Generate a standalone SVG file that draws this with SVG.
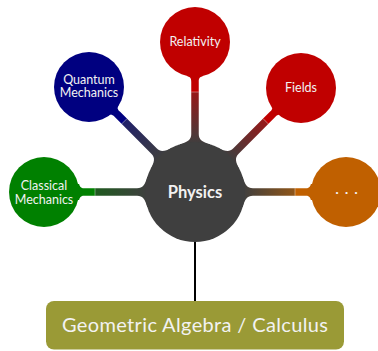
<svg xmlns="http://www.w3.org/2000/svg" width="378" height="351" viewBox="0 0 378 351">
<style>
.lbl{font-family:Lato,"Open Sans","DejaVu Sans",sans-serif;fill:#f2f2f2;text-anchor:middle}
.small{font-size:12.5px}
.tick{stroke:#ffffff;stroke-opacity:0.55;stroke-width:0.7}
</style>
<defs>
<path id="bar" d="M47.7,-15 C50.1,-7.4 52,-3.75 58,-3.75 L110,-3.75 C113,-3.75 115,-4.1 115.9,-8 L125,-8 L125,8 L115.9,8 C115,4.1 113,3.75 110,3.75 L58,3.75 C52,3.75 50.1,7.4 47.7,15 L40,15 L40,-15 Z"/>
<linearGradient id="gG" gradientUnits="userSpaceOnUse" x1="48" y1="0" x2="150" y2="0"><stop offset="0" stop-color="#3f3f3f"/><stop offset="0.51" stop-color="#1f5a1f"/><stop offset="0.51" stop-color="#008000"/><stop offset="1" stop-color="#008000"/></linearGradient>
<linearGradient id="gB" gradientUnits="userSpaceOnUse" x1="48" y1="0" x2="150" y2="0"><stop offset="0" stop-color="#3f3f3f"/><stop offset="0.51" stop-color="#20206a"/><stop offset="0.51" stop-color="#000080"/><stop offset="1" stop-color="#000080"/></linearGradient>
<linearGradient id="gR" gradientUnits="userSpaceOnUse" x1="48" y1="0" x2="150" y2="0"><stop offset="0" stop-color="#3f3f3f"/><stop offset="0.51" stop-color="#971818"/><stop offset="0.51" stop-color="#c00000"/><stop offset="1" stop-color="#c00000"/></linearGradient>
<linearGradient id="gO" gradientUnits="userSpaceOnUse" x1="48" y1="0" x2="150" y2="0"><stop offset="0" stop-color="#3f3f3f"/><stop offset="0.51" stop-color="#8f5518"/><stop offset="0.51" stop-color="#c06000"/><stop offset="1" stop-color="#c06000"/></linearGradient>
</defs>
<g id="connectors">
<g transform="translate(195,192) rotate(180)"><use href="#bar" fill="url(#gG)"/><line class="tick" x1="100" y1="-3.75" x2="100" y2="3.75"/></g>
<g transform="translate(195,192) rotate(-135)"><use href="#bar" fill="url(#gB)"/><line class="tick" x1="100" y1="-3.75" x2="100" y2="3.75"/></g>
<g transform="translate(195,192) rotate(-90)"><use href="#bar" fill="url(#gR)"/><line class="tick" x1="100" y1="-3.75" x2="100" y2="3.75"/></g>
<g transform="translate(195,192) rotate(-45)"><use href="#bar" fill="url(#gR)"/><line class="tick" x1="100" y1="-3.75" x2="100" y2="3.75"/></g>
<g transform="translate(195,192)"><use href="#bar" fill="url(#gO)"/><line class="tick" x1="100" y1="-3.75" x2="100" y2="3.75"/></g>
<line x1="195" y1="240" x2="195" y2="302" stroke="#000" stroke-width="2"/>
</g>
<g id="physics"><circle cx="195" cy="192" r="50" fill="#3f3f3f"/><text class="lbl" x="195" y="197.5" font-size="16.5" font-weight="bold">Physics</text></g>
<g id="classical"><circle cx="44" cy="192" r="35" fill="#008000"/><text class="lbl small" x="44" y="190">Classical</text><text class="lbl small" x="44" y="203.5">Mechanics</text></g>
<g id="quantum"><circle cx="89" cy="87" r="35" fill="#000080"/><text class="lbl small" x="89" y="83.5">Quantum</text><text class="lbl small" x="89" y="97">Mechanics</text></g>
<g id="relativity"><circle cx="195" cy="42" r="35" fill="#c00000"/><text class="lbl small" x="195" y="46">Relativity</text></g>
<g id="fields"><circle cx="301" cy="88" r="35" fill="#c00000"/><text class="lbl small" x="301" y="92">Fields</text></g>
<g id="more"><circle cx="346" cy="192" r="35" fill="#c06000"/><text class="lbl" x="337 346.5 356" y="196.5" font-size="14">···</text></g>
<g id="geometric"><rect x="46" y="301" width="298" height="48.5" rx="8" fill="#9a9a36"/><text class="lbl" x="195" y="332" font-size="20" textLength="266" lengthAdjust="spacing">Geometric Algebra / Calculus</text></g>
</svg>
